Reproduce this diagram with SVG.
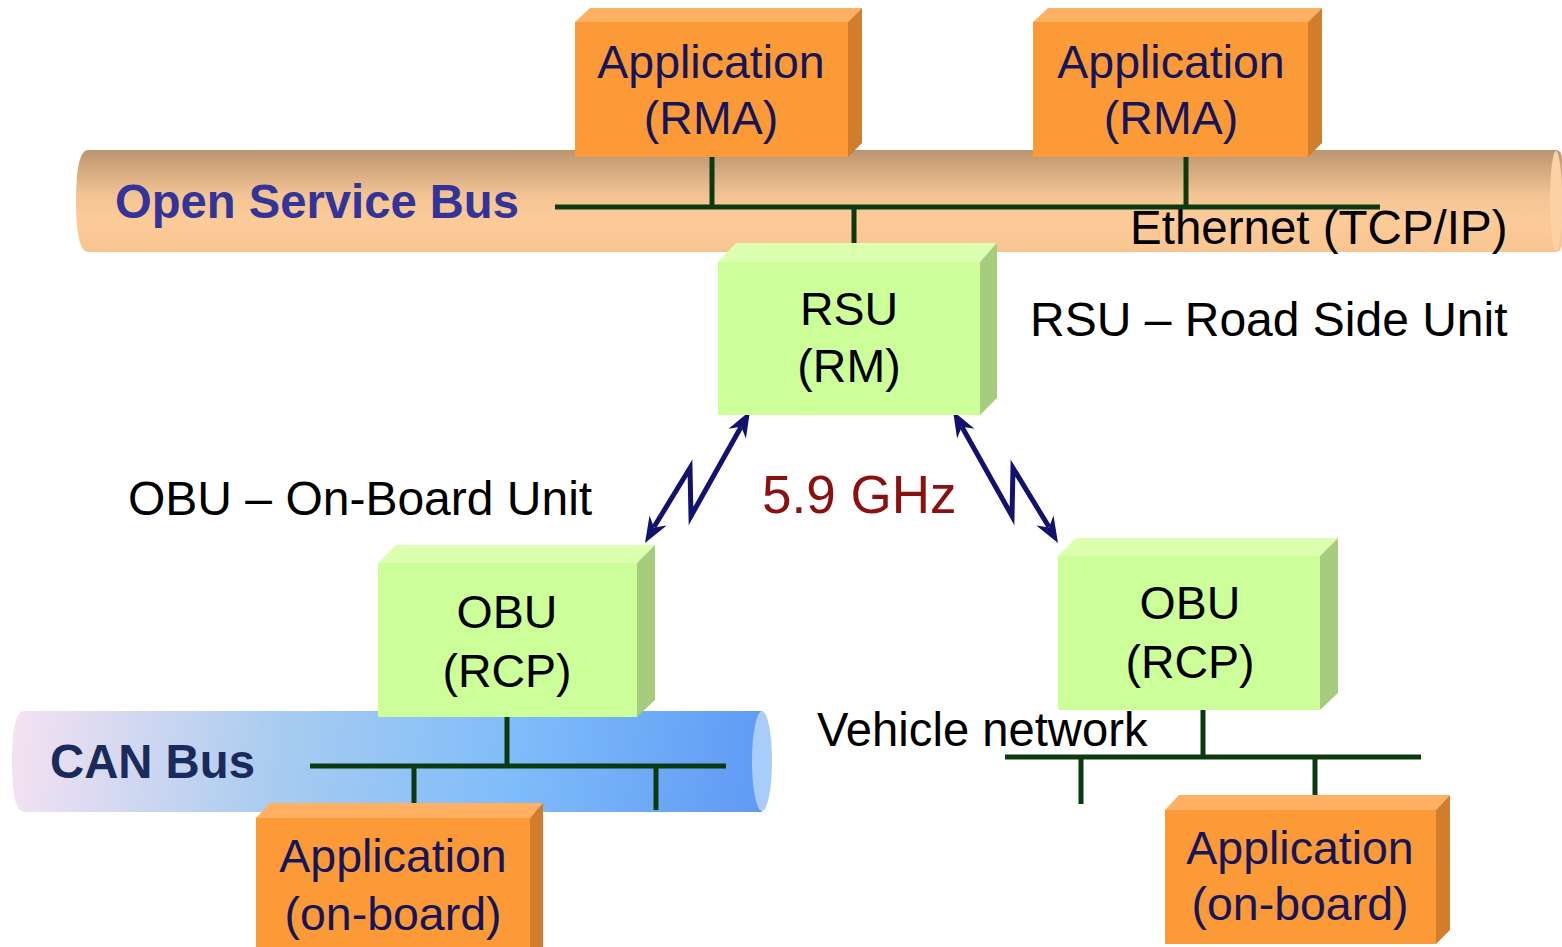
<svg xmlns="http://www.w3.org/2000/svg" width="1562" height="947" viewBox="0 0 1562 947">
<style>
.t{font-family:"Liberation Sans",Arial,sans-serif;font-size:46.5px;}
.l{font-size:48px;}
.c{text-anchor:middle;}
.nav{fill:#15155a;}
.blk{fill:#000;}
.wire{stroke:#0c3a10;stroke-width:5;fill:none;stroke-linecap:butt;}
.of{fill:#fd9a38;} .ot{fill:#ffb062;} .os{fill:#d27d2c;}
.gf{fill:#ccff99;} .gt{fill:#dcffb0;} .gs{fill:#a8cc7e;}
.radio{stroke:#12126e;stroke-width:5;fill:none;stroke-linejoin:miter;}
.head{fill:#12126e;}
</style>
<defs>
<linearGradient id="osb" x1="0" y1="0" x2="0" y2="1">
<stop offset="0" stop-color="#bb9570"/>
<stop offset="0.45" stop-color="#f4c494"/>
<stop offset="0.7" stop-color="#fccb98"/>
<stop offset="1" stop-color="#f8c590"/>
</linearGradient>
<linearGradient id="can" gradientUnits="userSpaceOnUse" x1="12" y1="711" x2="772" y2="812">
<stop offset="0" stop-color="#f6e2f2"/>
<stop offset="0.35" stop-color="#a8ccf0"/>
<stop offset="0.65" stop-color="#80bdfa"/>
<stop offset="1" stop-color="#5f98f4"/>
</linearGradient>
</defs>

<g id="open-service-bus">
<path d="M88,150 L1556,150 Q1562,150 1562,160 L1562,242 Q1562,252 1556,252 L88,252 Q76,252 76,201 Q76,150 88,150 Z" fill="url(#osb)"/>
<ellipse cx="1556" cy="201" rx="6" ry="50" fill="#fcd2a6"/>
<text class="t" x="115" y="218" style="font-weight:bold;fill:#333399;font-size:47.2px">Open Service Bus</text>
<text class="t l blk" x="1130" y="244" style="font-size:47.5px">Ethernet (TCP/IP)</text>
</g>

<g id="can-bus">
<path d="M24,711 L762,711 L762,812 L24,812 Q12,812 12,761 Q12,711 24,711 Z" fill="url(#can)"/>
<ellipse cx="762" cy="761" rx="10" ry="50" fill="#a9cdfb"/>
<text class="t" x="50" y="778" style="font-weight:bold;fill:#1a2a5a;font-size:47.3px">CAN Bus</text>
</g>

<g id="connectors">
<line class="wire" x1="555" y1="207" x2="1380" y2="207"/>
<line class="wire" x1="712" y1="157" x2="712" y2="207"/>
<line class="wire" x1="1186" y1="157" x2="1186" y2="207"/>
<line class="wire" x1="854" y1="207" x2="854" y2="250"/>
<line class="wire" x1="310" y1="766" x2="726" y2="766"/>
<line class="wire" x1="507" y1="717" x2="507" y2="766"/>
<line class="wire" x1="414" y1="766" x2="414" y2="804"/>
<line class="wire" x1="656" y1="766" x2="656" y2="810"/>
<line class="wire" x1="1005" y1="757" x2="1421" y2="757"/>
<line class="wire" x1="1203" y1="710" x2="1203" y2="757"/>
<line class="wire" x1="1081" y1="757" x2="1081" y2="804"/>
<line class="wire" x1="1315" y1="757" x2="1315" y2="796"/>
<polyline class="radio" points="741,427 691,516 690,468 654,527"/>
<polygon class="head" points="750,411 745.9,438.5 741.2,426.7 728.5,428.7"/>
<polygon class="head" points="645,543 649.5,515.5 654,527.4 666.7,525.5"/>
<polyline class="radio" points="962,427 1012,516 1013,468 1049,527"/>
<polygon class="head" points="953,411 957.1,438.5 961.8,426.7 974.5,428.7"/>
<polygon class="head" points="1058,543 1053.5,515.5 1049,527.4 1036.3,525.5"/>
</g>

<g id="app-rma-1">
<polygon class="ot" points="575,22 590,8 862,8 848,22"/>
<polygon class="os" points="848,22 862,8 862,143 848,157"/>
<rect class="of" x="575" y="22" width="273" height="135"/>
<text class="t nav c" x="711" y="78">Application</text>
<text class="t nav c" x="711" y="134">(RMA)</text>
</g>

<g id="app-rma-2">
<polygon class="ot" points="1033,22 1048,8 1322,8 1308,22"/>
<polygon class="os" points="1308,22 1322,8 1322,143 1308,157"/>
<rect class="of" x="1033" y="22" width="275" height="135"/>
<text class="t nav c" x="1171" y="78">Application</text>
<text class="t nav c" x="1171" y="134">(RMA)</text>
</g>

<g id="rsu">
<polygon class="gt" points="718,262 736,243 997,243 980,262"/>
<polygon class="gs" points="980,262 997,243 997,398 980,415"/>
<rect class="gf" x="718" y="262" width="262" height="153"/>
<text class="t blk c" x="849" y="325">RSU</text>
<text class="t blk c" x="849" y="382">(RM)</text>
</g>

<text id="rsu-label" class="t l blk" x="1030" y="336">RSU – Road Side Unit</text>
<text id="obu-label" class="t l blk" x="128" y="515">OBU – On-Board Unit</text>
<text id="freq" class="t" x="762" y="513" style="fill:#8b1010;font-size:53px">5.9 GHz</text>

<g id="obu-left">
<polygon class="gt" points="378,563 396,545 655,545 637,563"/>
<polygon class="gs" points="637,563 655,545 655,700 637,717"/>
<rect class="gf" x="378" y="563" width="259" height="154"/>
<text class="t blk c" x="507" y="628">OBU</text>
<text class="t blk c" x="507" y="687">(RCP)</text>
</g>

<g id="obu-right">
<polygon class="gt" points="1058,556 1076,538 1338,538 1320,556"/>
<polygon class="gs" points="1320,556 1338,538 1338,693 1320,710"/>
<rect class="gf" x="1058" y="556" width="262" height="154"/>
<text class="t blk c" x="1190" y="619">OBU</text>
<text class="t blk c" x="1190" y="678">(RCP)</text>
</g>

<text id="vehicle-network" class="t blk" x="817" y="746" style="font-size:47.2px">Vehicle network</text>

<g id="app-onboard-left">
<polygon class="ot" points="256,818 270,803 543,803 530,818"/>
<polygon class="os" points="530,818 543,803 543,947 530,947"/>
<rect class="of" x="256" y="818" width="274" height="129"/>
<text class="t nav c" x="393" y="872">Application</text>
<text class="t nav c" x="393" y="930">(on-board)</text>
</g>

<g id="app-onboard-right">
<polygon class="ot" points="1165,810 1179,795 1450,795 1436,810"/>
<polygon class="os" points="1436,810 1450,795 1450,930 1436,944"/>
<rect class="of" x="1165" y="810" width="271" height="134"/>
<text class="t nav c" x="1300" y="864">Application</text>
<text class="t nav c" x="1300" y="920">(on-board)</text>
</g>
</svg>
